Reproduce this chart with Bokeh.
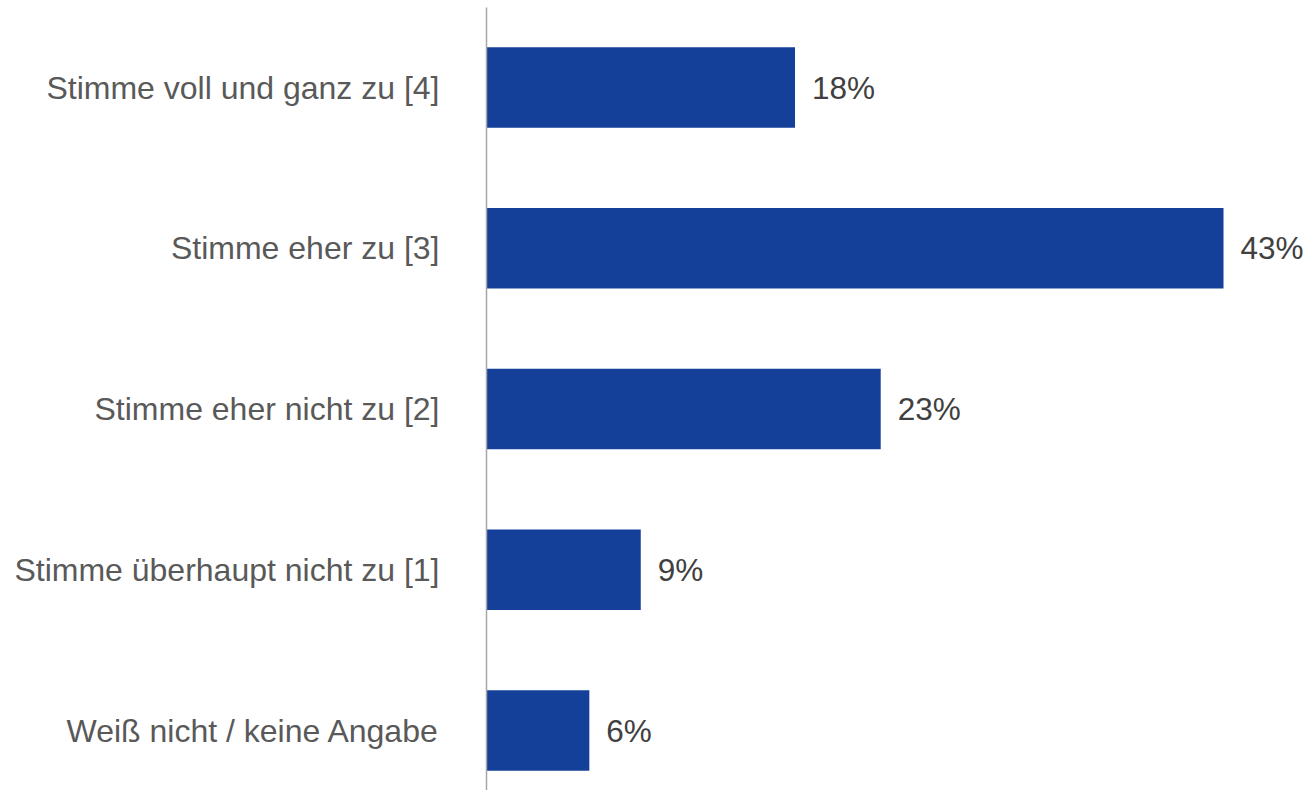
from bokeh.plotting import figure
from bokeh.models import ColumnDataSource, Range1d, FixedTicker
from bokeh.core.properties import value
from bokeh.embed import file_html
from bokeh.resources import INLINE

categories = [
    "Stimme voll und ganz zu [4]",
    "Stimme eher zu [3]",
    "Stimme eher nicht zu [2]",
    "Stimme überhaupt nicht zu [1]",
    "Weiß nicht / keine Angabe",
]
values = [18, 43, 23, 9, 6]
value_labels = ["18%", "43%", "23%", "9%", "6%"]

n = len(categories)
ypos = [n - 1 - i for i in range(n)]

src = ColumnDataSource(dict(y=ypos, v=values, lab=value_labels))

p = figure(width=1307, height=790, output_backend="svg", toolbar_location=None,
           x_range=Range1d(0, 47.9), y_range=Range1d(-0.373, 4.498),
           min_border_left=486, min_border_right=0, min_border_top=7, min_border_bottom=0)

p.hbar(y="y", right="v", left=0, height=0.5, source=src, color="#15409A", line_color=None)
p.text(x="v", y="y", text="lab", source=src, x_offset=17, text_baseline="middle",
       text_align="left", text_font=value("Liberation Sans"), text_font_size="31.5px",
       text_color="#404040")

p.xaxis.visible = False
p.xgrid.visible = False
p.ygrid.visible = False
p.outline_line_color = None

ya = p.yaxis[0]
ya.ticker = FixedTicker(ticks=ypos)
ya.major_label_overrides = {yy: c for yy, c in zip(ypos, categories)}
ya.major_tick_line_color = None
ya.minor_tick_line_color = None
ya.major_tick_out = 0
ya.major_tick_in = 0
ya.major_label_standoff = 47
ya.axis_line_color = "#A6A6A6"
ya.axis_line_width = 1.5
ya.major_label_text_font = "Liberation Sans"
ya.major_label_text_font_size = "32px"
ya.major_label_text_color = "#595959"

open("out.html", "w").write(file_html(p, INLINE))
